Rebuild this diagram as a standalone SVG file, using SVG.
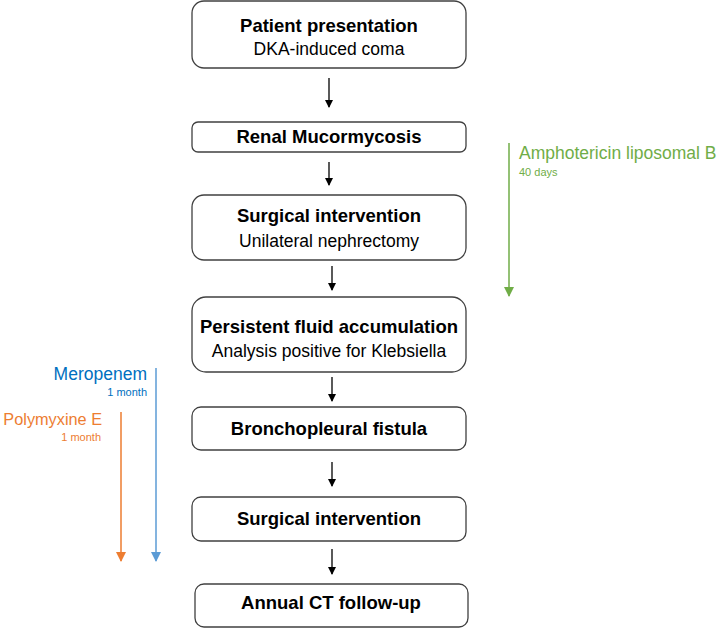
<svg xmlns="http://www.w3.org/2000/svg" width="721" height="628" viewBox="0 0 721 628">
<style>
.box{fill:#fff;stroke:#404040;stroke-width:1.3}
.t{font-family:"Liberation Sans",Arial,sans-serif;font-weight:bold;font-size:18.5px;fill:#000;text-anchor:middle}
.s{font-family:"Liberation Sans",Arial,sans-serif;font-size:17.5px;fill:#000;text-anchor:middle}
.c{stroke:#000;stroke-width:1.3;fill:none}
.g{font-family:"Liberation Sans",Arial,sans-serif;fill:#70AD47}
.b{font-family:"Liberation Sans",Arial,sans-serif;fill:#0070C0;text-anchor:end}
.o{font-family:"Liberation Sans",Arial,sans-serif;fill:#ED7D31;text-anchor:end}
</style>
<defs>
<marker id="ak" markerWidth="8" markerHeight="8" refX="7" refY="4" orient="auto" markerUnits="userSpaceOnUse"><path d="M0,0 L8,4 L0,8 z" fill="#000"/></marker>
<marker id="ag" markerWidth="10" markerHeight="10" refX="9" refY="5" orient="auto" markerUnits="userSpaceOnUse"><path d="M0,0 L10,5 L0,10 z" fill="#70AD47"/></marker>
<marker id="ab" markerWidth="10" markerHeight="10" refX="9" refY="5" orient="auto" markerUnits="userSpaceOnUse"><path d="M0,0 L10,5 L0,10 z" fill="#5B9BD5"/></marker>
<marker id="ao" markerWidth="10" markerHeight="10" refX="9" refY="5" orient="auto" markerUnits="userSpaceOnUse"><path d="M0,0 L10,5 L0,10 z" fill="#ED7D31"/></marker>
</defs>
<g id="n1"><rect class="box" x="192" y="1" width="274" height="67" rx="12"/><text class="t" x="329" y="32">Patient presentation</text><text class="s" x="329" y="55">DKA-induced coma</text></g>
<g id="n2"><rect class="box" x="192" y="122" width="274" height="30" rx="6"/><text class="t" x="329" y="143">Renal Mucormycosis</text></g>
<g id="n3"><rect class="box" x="192" y="195" width="274" height="65" rx="12"/><text class="t" x="329" y="222">Surgical intervention</text><text class="s" x="329" y="247">Unilateral nephrectomy</text></g>
<g id="n4"><rect class="box" x="192" y="297" width="274" height="75" rx="14"/><text class="t" x="329" y="333">Persistent fluid accumulation</text><text class="s" x="329" y="357">Analysis positive for Klebsiella</text></g>
<g id="n5"><rect class="box" x="192" y="407" width="274" height="43" rx="9"/><text class="t" x="329" y="435">Bronchopleural fistula</text></g>
<g id="n6"><rect class="box" x="192" y="497" width="274" height="44" rx="9"/><text class="t" x="329" y="525">Surgical intervention</text></g>
<g id="n7"><rect class="box" x="195" y="584" width="273" height="43" rx="9"/><text class="t" x="331" y="609">Annual CT follow-up</text></g>
<g id="connectors">
<line class="c" x1="329" y1="78" x2="329" y2="107" marker-end="url(#ak)"/>
<line class="c" x1="329" y1="162" x2="329" y2="185" marker-end="url(#ak)"/>
<line class="c" x1="332" y1="266" x2="332" y2="290" marker-end="url(#ak)"/>
<line class="c" x1="332" y1="377" x2="332" y2="401" marker-end="url(#ak)"/>
<line class="c" x1="332" y1="462" x2="332" y2="486" marker-end="url(#ak)"/>
<line class="c" x1="332" y1="549" x2="332" y2="574" marker-end="url(#ak)"/>
</g>
<g id="amphotericin">
<line x1="509" y1="143" x2="509" y2="296" stroke="#70AD47" stroke-width="1.5" marker-end="url(#ag)"/>
<text class="g" x="519" y="159" font-size="17.5">Amphotericin liposomal B</text>
<text class="g" x="519" y="176" font-size="11">40 days</text>
</g>
<g id="meropenem">
<line x1="156" y1="368" x2="156" y2="561" stroke="#5B9BD5" stroke-width="1.5" marker-end="url(#ab)"/>
<text class="b" x="147" y="380" font-size="17.5">Meropenem</text>
<text class="b" x="147" y="396" font-size="11">1 month</text>
</g>
<g id="polymyxine">
<line x1="121" y1="412" x2="121" y2="561" stroke="#ED7D31" stroke-width="1.5" marker-end="url(#ao)"/>
<text class="o" x="102" y="425" font-size="16.3">Polymyxine E</text>
<text class="o" x="101" y="441" font-size="11">1 month</text>
</g>
</svg>
